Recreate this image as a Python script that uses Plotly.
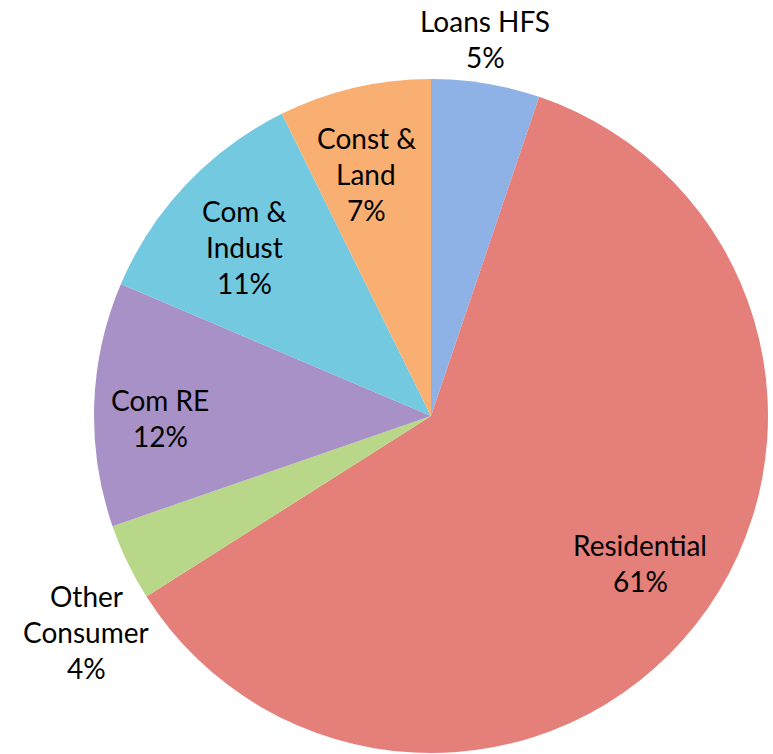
import plotly.graph_objects as go

# Data
labels = ["Loans HFS", "Residential", "Other Consumer", "Com RE", "Com & Indust", "Const & Land"]
label_lines = [["Loans HFS"], ["Residential"], ["Other", "Consumer"], ["Com RE"], ["Com &", "Indust"], ["Const &", "Land"]]
values = [5.2, 60.8, 3.7, 11.7, 11.3, 7.3]
colors = ["#8fb2e6", "#e47f79", "#b8d788", "#a891c7", "#72c9e0", "#f9ae72"]

W, H = 773, 754
cx, cy, R = 431, 416, 337
LINE = 36

# label anchor pixel positions (centre of text block)
label_px = [(485, 39), (640, 563), (86, 632), (160, 418), (244, 247), (366, 174)]

total = sum(values)
pcts = [round(v / total * 100) for v in values]

fig = go.Figure(go.Pie(
    labels=labels,
    values=values,
    sort=False,
    direction="clockwise",
    rotation=0,
    marker=dict(colors=colors, line=dict(width=0)),
    textinfo="none",
    hoverinfo="label+percent",
    showlegend=False,
    domain=dict(x=[(cx - R) / W, (cx + R) / W], y=[1 - (cy + R) / H, 1 - (cy - R) / H]),
))

for (px, py), lines, p in zip(label_px, label_lines, pcts):
    all_lines = lines + [f"{p}%"]
    n = len(all_lines)
    for i, t in enumerate(all_lines):
        ly = py + (i - (n - 1) / 2) * LINE
        fig.add_annotation(
            x=px / W, y=1 - ly / H, xref="paper", yref="paper",
            text=t, showarrow=False,
            font=dict(family="Lato, Carlito, Calibri, sans-serif", size=28, color="#000000"),
            align="center", xanchor="center", yanchor="middle",
        )

fig.update_layout(
    width=W, height=H,
    margin=dict(l=0, r=0, t=0, b=0),
    paper_bgcolor="white", plot_bgcolor="white",
)

fig.write_html("out.html")
